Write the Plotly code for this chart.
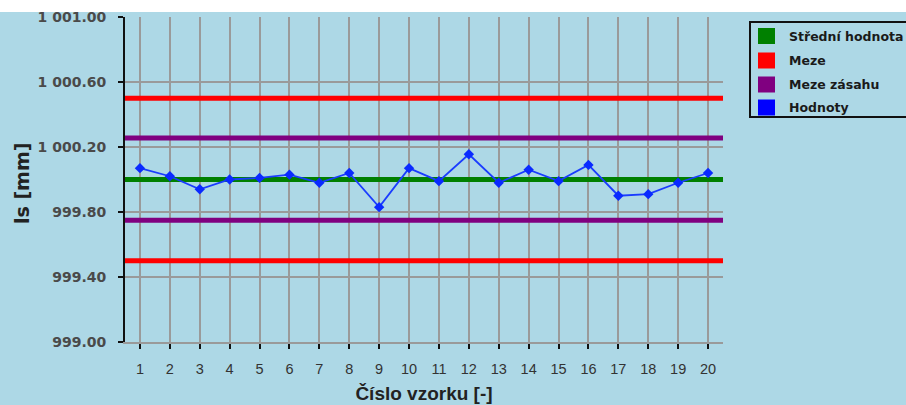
import plotly.graph_objects as go

# ---- data -------------------------------------------------------------
samples = list(range(1, 21))
values = [1000.07, 1000.02, 999.94, 1000.00, 1000.01, 1000.03, 999.98, 1000.04, 999.83, 1000.07,
          999.99, 1000.155, 999.98, 1000.06, 999.99, 1000.09, 999.90, 999.91, 999.98, 1000.04]
mean_value = 1000.00
limits = [999.50, 1000.50]
action_limits = [999.75, 1000.255]
y_tickvals = [999.0, 999.4, 999.8, 1000.2, 1000.6, 1001.0]
y_ticktext = ["999.00", "999.40", "999.80", "1 000.20", "1 000.60", "1 001.00"]
series_names = ["Střední hodnota", "Meze", "Meze zásahu", "Hodnoty"]
series_colors = ["#008000", "#FF0000", "#800080", "#0000FF"]
x_span = [0.5, 20.5]
x_title = "Číslo vzorku [-]"
y_title = "ls [mm]"

BG = "#ADD8E6"
W, H = 906, 405
L, R, T, B = 125, 183, 17, 63
PW, PH = W - L - R, H - T - B


def px(x):
    return (x - L) / PW


def py(y):
    return (H - B - y) / PH


fig = go.Figure()

# limit lines (red)
for v in limits:
    fig.add_trace(go.Scatter(x=x_span, y=[v, v], mode="lines", name=series_names[1],
                             line=dict(color=series_colors[1], width=5), showlegend=False,
                             hoverinfo="skip"))
# action limits (purple)
for v in action_limits:
    fig.add_trace(go.Scatter(x=x_span, y=[v, v], mode="lines", name=series_names[2],
                             line=dict(color=series_colors[2], width=5), showlegend=False,
                             hoverinfo="skip"))
# mean (green)
fig.add_trace(go.Scatter(x=x_span, y=[mean_value, mean_value], mode="lines", name=series_names[0],
                         line=dict(color=series_colors[0], width=5), showlegend=False,
                         hoverinfo="skip"))
# values (blue)
fig.add_trace(go.Scatter(x=samples, y=values, mode="lines+markers", name=series_names[3],
                         line=dict(color="#1a3cff", width=1.8),
                         marker=dict(symbol="diamond", size=8, color="#0a2aff"),
                         showlegend=False))

shapes = []
annotations = []

# light-blue chart background below the white strip at the top
shapes.append(dict(type="rect", xref="paper", yref="paper",
                   x0=px(0), x1=px(W), y0=py(H), y1=py(12),
                   fillcolor=BG, line=dict(width=0), layer="below"))

# legend box (cut at right edge like the reference)
shapes.append(dict(type="rect", xref="paper", yref="paper",
                   x0=px(750), x1=px(930), y0=py(117), y1=py(22),
                   fillcolor=BG, line=dict(color="#111111", width=2), layer="above"))
row_y = [36, 60.5, 84.5, 107.5]
for name, color, yy in zip(series_names, series_colors, row_y):
    shapes.append(dict(type="rect", xref="paper", yref="paper",
                       x0=px(758), x1=px(775), y0=py(yy + 8), y1=py(yy - 8),
                       fillcolor=color, line=dict(width=0), layer="above"))
    annotations.append(dict(xref="paper", yref="paper", x=px(787), y=py(yy),
                            xanchor="left", yanchor="middle", text=name, showarrow=False,
                            font=dict(family="DejaVu Sans", size=12.5,
                                      color="#1a1a1a", weight="bold")))

# y-axis title
annotations.append(dict(xref="paper", yref="paper", x=px(22), y=py(184),
                        xanchor="center", yanchor="middle", text=y_title, textangle=-90,
                        showarrow=False,
                        font=dict(family="DejaVu Sans", size=19, color="#222222",
                                  weight="bold")))

fig.update_layout(
    width=W, height=H,
    margin=dict(l=L, r=R, t=T, b=B, autoexpand=False),
    paper_bgcolor="white", plot_bgcolor=BG,
    showlegend=False,
    shapes=shapes, annotations=annotations,
    font=dict(family="Liberation Sans, Arial", color="#333333"),
)

fig.update_xaxes(
    range=x_span, tickmode="array", tickvals=samples, ticktext=[str(s) for s in samples],
    showgrid=True, gridcolor="#9a9a9a", gridwidth=2, zeroline=False,
    showline=True, linecolor="#9a9a9a", linewidth=2,
    ticks="outside", tickcolor="#111111", ticklen=5, tickwidth=1.5,
    ticklabelstandoff=8,
    tickfont=dict(family="Liberation Sans, Arial", size=14.5, color="#333333"),
    title=dict(text=x_title, standoff=10,
               font=dict(family="Liberation Sans, Arial", size=19, color="#222222",
                         weight="bold")),
)
fig.update_yaxes(
    range=[999.0, 1001.0], tickmode="array", tickvals=y_tickvals, ticktext=y_ticktext,
    showgrid=True, gridcolor="#9a9a9a", gridwidth=2, zeroline=False,
    showline=True, linecolor="#111111", linewidth=2,
    ticks="outside", tickcolor="#111111", ticklen=5, tickwidth=1.5,
    ticklabelstandoff=9,
    tickfont=dict(family="DejaVu Sans", size=14, color="#4a4a4a", weight="bold"),
)

fig.write_html("out.html", config={"displayModeBar": False},
               post_script="document.body.style.margin='0px';")
